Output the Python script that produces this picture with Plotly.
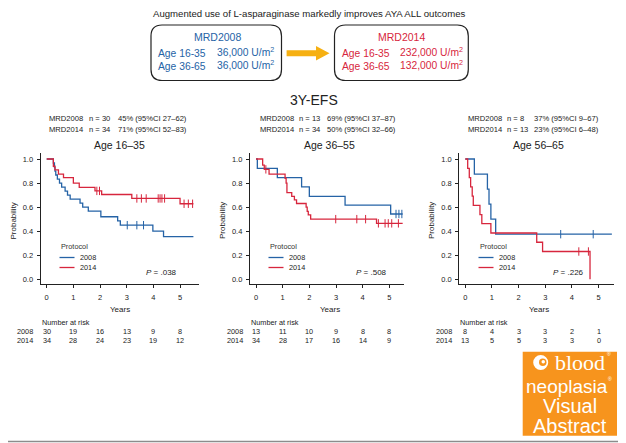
import plotly.graph_objects as go

W = 626
H = 443
OFF = 8  # the page body margin pushes the figure 8px right and down

blue = "#2563a6"
red = "#d7263d"
ink = "#222222"
orange = "#f7941d"
arrowColor = "#f6b012"
FONT = "Liberation Sans, Arial, sans-serif"
NARROW = "Liberation Sans Narrow, Liberation Sans, Arial, sans-serif"
SERIF = "Liberation Serif, DejaVu Serif, serif"

years = [0, 1, 2, 3, 4, 5]
probTicks = [0.0, 0.2, 0.4, 0.6, 0.8, 1.0]

# panel 1 : age 16-35
p1_2008_t = [0, 0.25, 0.29, 0.31, 0.34, 0.40, 0.48, 0.56, 0.69, 0.78, 0.88, 1.25, 1.35, 1.56, 2.03, 2.66, 2.76, 3.98, 4.38, 5.50]
p1_2008_s = [1.0, 0.967, 0.933, 0.90, 0.867, 0.833, 0.80, 0.767, 0.733, 0.70, 0.667, 0.633, 0.60, 0.567, 0.52, 0.485, 0.45, 0.40, 0.355, 0.355]
p1_2008_ct = [3.02, 3.38, 3.63]
p1_2008_cs = [0.45, 0.45, 0.45]
p1_2014_t = [0, 0.25, 0.31, 0.44, 0.63, 1.0, 1.22, 1.81, 2.06, 3.19, 5.0, 5.5]
p1_2014_s = [1.0, 0.94, 0.91, 0.875, 0.845, 0.80, 0.765, 0.735, 0.705, 0.672, 0.628, 0.628]
p1_2014_ct = [1.88, 1.98, 3.38, 3.55, 3.73, 4.18, 4.25, 4.32, 4.42, 5.15, 5.31, 5.47]
p1_2014_cs = [0.735, 0.735, 0.672, 0.672, 0.672, 0.672, 0.672, 0.672, 0.672, 0.628, 0.628, 0.628]
p1_risk_2008 = [30, 19, 16, 13, 9, 8]
p1_risk_2014 = [34, 28, 24, 23, 19, 12]

# panel 2 : age 36-55
p2_2008_t = [0, 0.05, 0.80, 1.71, 2.0, 3.34, 5.05, 5.5]
p2_2008_s = [1.0, 0.923, 0.846, 0.769, 0.69, 0.617, 0.543, 0.543]
p2_2008_ct = [5.25, 5.36, 5.47]
p2_2008_cs = [0.543, 0.543, 0.543]
p2_2014_t = [0, 0.25, 0.31, 0.49, 1.09, 1.13, 1.16, 1.34, 1.44, 1.52, 1.88, 1.92, 1.96, 2.05, 4.52, 5.5]
p2_2014_s = [1.0, 0.95, 0.914, 0.875, 0.84, 0.80, 0.72, 0.69, 0.66, 0.63, 0.60, 0.565, 0.535, 0.50, 0.465, 0.465]
p2_2014_ct = [0.37, 2.99, 3.78, 4.11, 4.59, 4.84, 4.96, 5.09, 5.34]
p2_2014_cs = [0.914, 0.50, 0.50, 0.50, 0.465, 0.465, 0.465, 0.465, 0.465]
p2_risk_2008 = [13, 11, 10, 9, 8, 8]
p2_risk_2014 = [34, 28, 17, 16, 14, 9]

# panel 3 : age 56-65
p3_2008_t = [0, 0.34, 0.83, 0.89, 0.96, 1.14, 5.5]
p3_2008_s = [1.0, 0.875, 0.75, 0.625, 0.50, 0.375, 0.375]
p3_2008_ct = [3.58, 4.8]
p3_2008_cs = [0.375, 0.375]
p3_2014_t = [0, 0.09, 0.15, 0.20, 0.26, 0.30, 0.55, 0.62, 0.96, 2.68, 2.90, 4.68]
p3_2014_s = [1.0, 0.923, 0.846, 0.769, 0.692, 0.615, 0.538, 0.462, 0.385, 0.308, 0.231, 0.0]
p3_2014_ct = [4.26, 4.62]
p3_2014_cs = [0.231, 0.231]
p3_risk_2008 = [8, 4, 3, 3, 2, 1]
p3_risk_2014 = [13, 5, 5, 3, 3, 0]

titles = ["Age 16\u201335", "Age 36\u201355", "Age 56\u201365"]
pvalues = [".038", ".508", ".226"]
head2008 = [["MRD2008", "n = 30", "45% (95%CI 27\u201362)"],
            ["MRD2008", "n = 13", "69% (95%CI 37\u201387)"],
            ["MRD2008", "n = 8", "37% (95%CI 9\u201367)"]]
head2014 = [["MRD2014", "n = 34", "71% (95%CI 52\u201383)"],
            ["MRD2014", "n = 34", "50% (95%CI 32\u201366)"],
            ["MRD2014", "n = 13", "23% (95%CI 6\u201348)"]]


def px(x):
    return (x - OFF) / W


def py(y):
    return 1 - (y - OFF) / H


def text(fig, s, x, y, size, color=ink, anchor="left", family=FONT, xref="paper", angle=0):
    fig.add_annotation(x=px(x) if xref == "paper" else x, y=py(y), xref=xref, yref="paper",
                       text=s, showarrow=False, xanchor=anchor, yanchor="middle",
                       textangle=angle, borderpad=0,
                       font=dict(size=size, color=color, family=family))


def roundBox(fig, x0, y0, x1, y1, r):
    def p(x, y):
        return "%.5f,%.5f" % (px(x), py(y))
    path = ("M " + p(x0 + r, y0) + " L " + p(x1 - r, y0) + " Q " + p(x1, y0) + " " + p(x1, y0 + r) +
            " L " + p(x1, y1 - r) + " Q " + p(x1, y1) + " " + p(x1 - r, y1) +
            " L " + p(x0 + r, y1) + " Q " + p(x0, y1) + " " + p(x0, y1 - r) +
            " L " + p(x0, y0 + r) + " Q " + p(x0, y0) + " " + p(x0 + r, y0) + " Z")
    fig.add_shape(type="path", path=path, xref="paper", yref="paper",
                  line=dict(color=ink, width=1.2), fillcolor="white")


def addCurve(fig, n, t, s, ct, cs, color):
    xa = "x" if n == 1 else "x%d" % n
    ya = "y" if n == 1 else "y%d" % n
    fig.add_trace(go.Scatter(x=t, y=s, mode="lines", xaxis=xa, yaxis=ya,
                             line=dict(color=color, width=1.3, shape="hv"),
                             showlegend=False, hoverinfo="skip"))
    fig.add_trace(go.Scatter(x=ct, y=cs, mode="markers", xaxis=xa, yaxis=ya,
                             marker=dict(symbol="line-ns-open", size=6, color=color,
                                         line=dict(color=color, width=1)),
                             showlegend=False, hoverinfo="skip"))


def setAxes(fig, n, x0, x1, xmax):
    xa = dict(domain=[px(x0), px(x1)], range=[-0.225, xmax], anchor="y" if n == 1 else "y%d" % n,
              tickvals=years, ticks="outside", ticklen=3, tickwidth=1, tickcolor=ink,
              showline=True, linecolor=ink, linewidth=1.2, showgrid=False, zeroline=False,
              tickfont=dict(size=7.5, color=ink, family=FONT), ticklabelstandoff=3)
    ya = dict(domain=[py(283.5), py(153)], range=[-0.035, 1.05], anchor="x" if n == 1 else "x%d" % n,
              tickvals=probTicks, tickformat=".1f", ticks="outside", ticklen=3, tickwidth=1,
              tickcolor=ink, showline=True, linecolor=ink, linewidth=1.2, showgrid=False,
              zeroline=False, tickfont=dict(size=7.5, color=ink, family=FONT), ticklabelstandoff=2)
    if n == 1:
        fig.update_layout(xaxis=xa, yaxis=ya)
    else:
        fig.update_layout(**{"xaxis%d" % n: xa, "yaxis%d" % n: ya})


def panel(fig, n, x0, x1, xmax, curves, risk2008, risk2014, pos):
    setAxes(fig, n, x0, x1, xmax)
    for c in curves:
        addCurve(fig, n, *c)
    xref = "x" if n == 1 else "x%d" % n

    # header lines
    h1, h2, h3 = pos["head"]
    for row, y in [(head2008[n - 1], 118.5), (head2014[n - 1], 129.5)]:
        text(fig, row[0], h1, y, 7.6)
        text(fig, row[1], h2, y, 7.6)
        text(fig, row[2], h3, y, 7.6)
    text(fig, titles[n - 1], pos["title"], 145, 10.5, anchor="center")
    text(fig, "Probability", pos["ylab"], 221, 8, family=NARROW, anchor="center", angle=-90)
    text(fig, "Years", pos["years"], 309, 8, family=NARROW, anchor="center")

    # legend
    lx = pos["legend"]
    text(fig, "Protocol", lx, 247, 7.3, color="#333333")
    for y, col, lab in [(257.5, blue, "2008"), (267.5, red, "2014")]:
        fig.add_shape(type="line", xref="paper", yref="paper", x0=px(lx), x1=px(lx + 15),
                      y0=py(y), y1=py(y), line=dict(color=col, width=1.3))
        text(fig, lab, lx + 19, y, 7.3)
    text(fig, "<i>P</i> = " + pvalues[n - 1], pos["p"], 272, 8, anchor="center")

    # number at risk
    text(fig, "Number at risk", x0, 322.5, 7.3)
    text(fig, "2008", pos["risk"], 331, 7.3)
    text(fig, "2014", pos["risk"], 340, 7.3)
    for i in range(len(years)):
        text(fig, str(risk2008[i]), years[i], 331, 7.3, anchor="center", xref=xref)
        text(fig, str(risk2014[i]), years[i], 340, 7.3, anchor="center", xref=xref)


fig = go.Figure()

panel(fig, 1, 40.7, 199, 5.71,
      [(p1_2008_t, p1_2008_s, p1_2008_ct, p1_2008_cs, blue),
       (p1_2014_t, p1_2014_s, p1_2014_ct, p1_2014_cs, red)],
      p1_risk_2008, p1_risk_2014,
      dict(head=(48.5, 87.5, 116.5), title=119, ylab=13.5, years=120, legend=59.5, p=161.5, risk=16))
panel(fig, 2, 250, 404, 5.55,
      [(p2_2008_t, p2_2008_s, p2_2008_ct, p2_2008_cs, blue),
       (p2_2014_t, p2_2014_s, p2_2014_ct, p2_2014_cs, red)],
      p2_risk_2008, p2_risk_2014,
      dict(head=(258.5, 297.5, 326), title=329, ylab=223, years=329.5, legend=268.5, p=371, risk=225.5))
panel(fig, 3, 459.3, 614, 5.58,
      [(p3_2008_t, p3_2008_s, p3_2008_ct, p3_2008_cs, blue),
       (p3_2014_t, p3_2014_s, p3_2014_ct, p3_2014_cs, red)],
      p3_risk_2008, p3_risk_2014,
      dict(head=(467, 506, 533), title=538.5, ylab=432, years=538.7, legend=478.5, p=568.5, risk=435))

# top summary
text(fig, "Augmented use of L-asparaginase markedly improves AYA ALL outcomes", 309, 13, 9.6, anchor="center")
roundBox(fig, 151, 25, 281.5, 80.5, 11)
roundBox(fig, 334.5, 25, 468.3, 80.5, 11)
text(fig, "MRD2008", 217.5, 37, 10.5, color=blue, anchor="center")
text(fig, "Age 16-35", 156.5, 53, 10.3, color=blue)
text(fig, "Age 36-65", 156.5, 66, 10.3, color=blue)
text(fig, "36,000 U/m<sup>2</sup>", 215.5, 52, 10.3, color=blue)
text(fig, "36,000 U/m<sup>2</sup>", 215.5, 65, 10.3, color=blue)
text(fig, "MRD2014", 401, 37, 10.5, color=red, anchor="center")
text(fig, "Age 16-35", 341, 53, 10.3, color=red)
text(fig, "Age 36-65", 341, 66, 10.3, color=red)
text(fig, "232,000 U/m<sup>2</sup>", 399, 52, 10.3, color=red)
text(fig, "132,000 U/m<sup>2</sup>", 399, 65, 10.3, color=red)
arrowPts = [(286.6, 50.3), (316, 50.3), (316, 46), (329.5, 53.3), (316, 60.6), (316, 56.3), (286.6, 56.3)]
fig.add_shape(type="path", xref="paper", yref="paper", fillcolor=arrowColor, line=dict(width=0),
              path="M " + " L ".join("%.5f,%.5f" % (px(a), py(b)) for a, b in arrowPts) + " Z")
text(fig, "3Y-EFS", 314, 100, 14, anchor="center")

# logo block
fig.add_shape(type="rect", xref="paper", yref="paper", x0=px(522.7), x1=px(617), y0=py(435.7), y1=py(351.7),
              fillcolor=orange, line=dict(width=0))
fig.add_shape(type="circle", xref="paper", yref="paper", x0=px(533.2), x1=px(548.2), y0=py(370), y1=py(355),
              fillcolor="white", line=dict(width=0))
fig.add_shape(type="circle", xref="paper", yref="paper", x0=px(539), x1=px(546.5), y0=py(366), y1=py(358.5),
              fillcolor=orange, line=dict(width=0))
fig.add_shape(type="circle", xref="paper", yref="paper", x0=px(541.5), x1=px(545), y0=py(363.5), y1=py(360),
              fillcolor="white", line=dict(width=0))
text(fig, "blood", 579.5, 362, 22, color="white", anchor="center", family=SERIF)
text(fig, "\u00ae", 609, 354, 5, color="white", anchor="center")
text(fig, "neoplasia", 566.5, 386, 19, color="white", anchor="center")
text(fig, "\u00ae", 609.5, 379, 5, color="white", anchor="center")
text(fig, "Visual", 570.4, 406, 20, color="white", anchor="center")
text(fig, "Abstract", 570.3, 426, 20, color="white", anchor="center")

# outer frame (right and bottom edges; left/top fall in the page margin)
fig.add_shape(type="line", xref="paper", yref="paper", x0=px(624.5), x1=px(624.5), y0=py(441.5), y1=py(OFF),
              line=dict(color="#8c8c8c", width=1.5))
fig.add_shape(type="line", xref="paper", yref="paper", x0=px(OFF), x1=px(624.5), y0=py(441.5), y1=py(441.5),
              line=dict(color="#8c8c8c", width=1.5))

fig.update_layout(width=W, height=H, margin=dict(l=0, r=0, t=0, b=0),
                  paper_bgcolor="white", plot_bgcolor="white", showlegend=False)

fig.write_html("out.html")
